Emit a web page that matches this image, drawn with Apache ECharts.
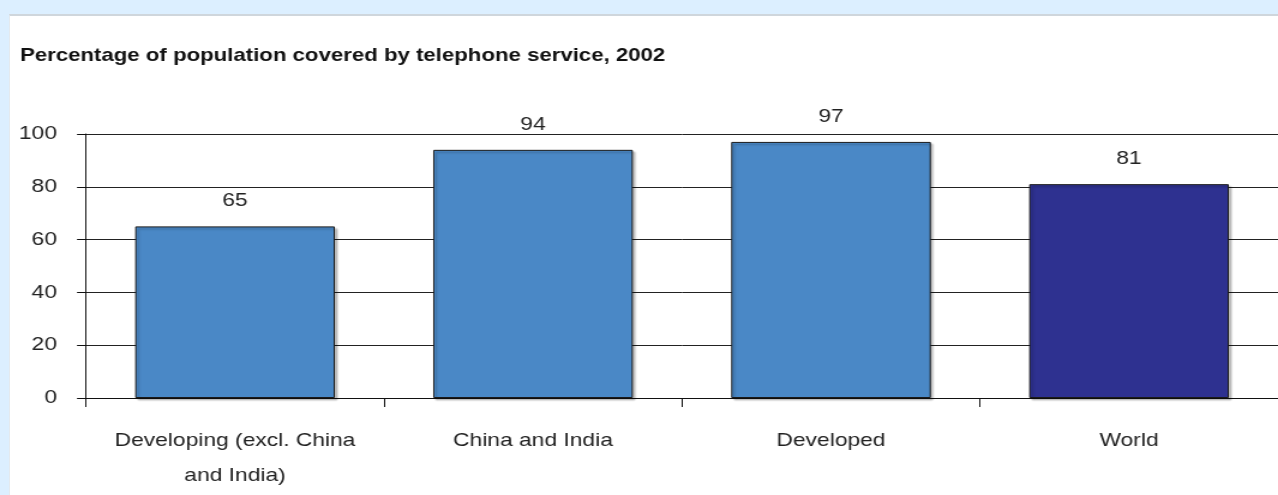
<!DOCTYPE html>
<html>
<head>
<meta charset="utf-8">
<script src="https://cdn.jsdelivr.net/npm/echarts@6/dist/echarts.min.js"></script>
<style>
  html, body { margin: 0; padding: 0; width: 1278px; height: 495px; overflow: hidden; background: #dcefff; }
  #panel { position: absolute; left: 9px; top: 14px; right: 0; bottom: 0; background: #ffffff; border-top: 2px solid #cfd6dc; border-left: 1px solid #e4eaef; }
  #chart { position: absolute; left: 0; top: 0; width: 1065px; height: 495px; transform: scaleX(1.2); transform-origin: 0 0; }
</style>
</head>
<body>
<div id="panel"></div>
<div id="chart"></div>
<script>
const categories = ['Developing (excl. China\nand India)', 'China and India', 'Developed', 'World'];
const coverage = [65, 94, 97, 81];
const yTicks = [0, 20, 40, 60, 80, 100];

const regionColor = '#4a88c6';
const worldColor = '#2e3190';
const S = 1.2; // horizontal stretch of the original rendering

const chart = echarts.init(document.getElementById('chart'), null, { renderer: 'canvas' });
const font = 'Liberation Sans, Arial, sans-serif';
chart.setOption({
  backgroundColor: 'transparent',
  animation: false,
  title: {
    text: 'Percentage of population covered by telephone service, 2002',
    left: 20 / S, top: 46, padding: 0,
    textStyle: { fontFamily: font, fontSize: 18.5, fontWeight: 'bold', color: '#111' }
  },
  grid: { left: 86 / S, top: 134, width: 1199 / S, height: 264 },
  xAxis: {
    type: 'category',
    data: categories,
    axisLine: { lineStyle: { color: '#111', width: 1 } },
    axisTick: { show: true, length: 9, alignWithLabel: false, lineStyle: { color: '#111' } },
    axisLabel: { margin: 25, fontFamily: font, fontSize: 19, color: '#222', lineHeight: 35, interval: 0 }
  },
  yAxis: {
    type: 'value',
    min: yTicks[0], max: yTicks[yTicks.length - 1], interval: 20,
    axisLine: { show: true, lineStyle: { color: '#111', width: 1 } },
    axisTick: { show: true, length: 9 / S, lineStyle: { color: '#111' } },
    axisLabel: { margin: 29 / S, fontFamily: font, fontSize: 19, color: '#222' },
    splitLine: { show: true, lineStyle: { color: '#222', width: 1 } }
  },
  series: [{
    type: 'bar',
    barWidth: '67%',
    data: coverage.map((v, i) => ({
      value: v,
      itemStyle: { color: i === categories.length - 1 ? worldColor : regionColor }
    })),
    itemStyle: {
      borderColor: '#1a1a1a', borderWidth: 1,
      shadowColor: 'rgba(0,0,0,0.25)', shadowOffsetX: 2, shadowOffsetY: 2, shadowBlur: 2
    },
    label: { show: true, position: 'top', distance: 16, fontFamily: font, fontSize: 19, color: '#222' }
  }]
});
</script>
</body>
</html>
